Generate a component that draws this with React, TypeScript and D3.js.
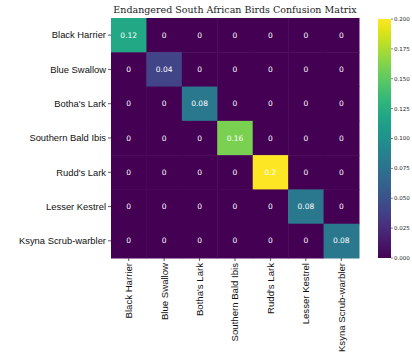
import React from "react";
import * as d3 from "d3";

const categories = ["Black Harrier","Blue Swallow","Botha's Lark","Southern Bald Ibis","Rudd's Lark","Lesser Kestrel","Ksyna Scrub-warbler"];
const diagValues = [0.12, 0.04, 0.08, 0.16, 0.2, 0.08, 0.08];
const colorTicks = [0, 0.025, 0.05, 0.075, 0.1, 0.125, 0.15, 0.175, 0.2];
const title = "Endangered South African Birds Confusion Matrix";

export default function App() {
  const W = 412, H = 358;
  const left = 111, right = 359, top = 18, bottom = 258;
  const x = d3.scaleBand<string>().domain(categories).range([left, right]);
  const y = d3.scaleBand<string>().domain(categories).range([top, bottom]);
  const color = d3.scaleSequential(d3.interpolateViridis).domain([0, 0.2]);
  const cbL = 378, cbR = 391;
  const cy = d3.scaleLinear().domain([0, 0.2]).range([bottom, top + 1]);
  const cells: { r: string; c: string; v: number }[] = [];
  categories.forEach((r, i) => categories.forEach((c, j) => cells.push({ r, c, v: i === j ? diagValues[i] : 0 })));
  const stops = d3.range(0, 1.0001, 0.05);
  return (
    <svg width={W} height={H} style={{ position: "absolute", left: 0, top: 0, background: "#fff" }}>
      <defs>
        <linearGradient id="cb" x1="0" y1="1" x2="0" y2="0">
          {stops.map((s) => <stop key={s} offset={s} stopColor={d3.interpolateViridis(s)} />)}
        </linearGradient>
      </defs>
      <text x={(left + right) / 2} y={13} textAnchor="middle" fontFamily="DejaVu Serif" fontSize={9.5} fill="#222">{title}</text>
      {cells.map((d, k) => (
        <g key={k}>
          <rect x={x(d.c)} y={y(d.r)} width={x.bandwidth() + 0.5} height={y.bandwidth() + 0.5} fill={color(d.v)} />
          <text x={x(d.c)! + x.bandwidth() / 2} y={y(d.r)! + y.bandwidth() / 2} dy="0.35em" textAnchor="middle" fontFamily="DejaVu Sans" fontSize={7.5} fill="#fff">{String(d.v)}</text>
        </g>
      ))}
      {categories.map((c) => (
        <g key={"y" + c}>
          <line x1={left - 3} x2={left} y1={y(c)! + y.bandwidth() / 2} y2={y(c)! + y.bandwidth() / 2} stroke="#333" strokeWidth={0.8} />
          <text x={left - 5} y={y(c)! + y.bandwidth() / 2} dy="0.35em" textAnchor="end" fontFamily="Liberation Sans" fontSize={9.4} fill="#111">{c}</text>
        </g>
      ))}
      {categories.map((c) => {
        const cx = x(c)! + x.bandwidth() / 2;
        return (
          <g key={"x" + c}>
            <line x1={cx} x2={cx} y1={bottom} y2={bottom + 3} stroke="#333" strokeWidth={0.8} />
            <text transform={`translate(${cx},${bottom + 5}) rotate(-90)`} dy="0.35em" textAnchor="end" fontFamily="Liberation Sans" fontSize={9.6} fill="#111">{c}</text>
          </g>
        );
      })}
      <rect x={cbL} y={top + 1} width={cbR - cbL} height={bottom - top - 1} fill="url(#cb)" />
      {colorTicks.map((t) => (
        <g key={"c" + t}>
          <line x1={cbR} x2={cbR + 2} y1={cy(t)} y2={cy(t)} stroke="#333" strokeWidth={0.6} />
          <text x={cbR + 3} y={cy(t)} dy="0.35em" fontFamily="DejaVu Sans" fontSize={5.5} fill="#222">{t.toFixed(3)}</text>
        </g>
      ))}
    </svg>
  );
}
